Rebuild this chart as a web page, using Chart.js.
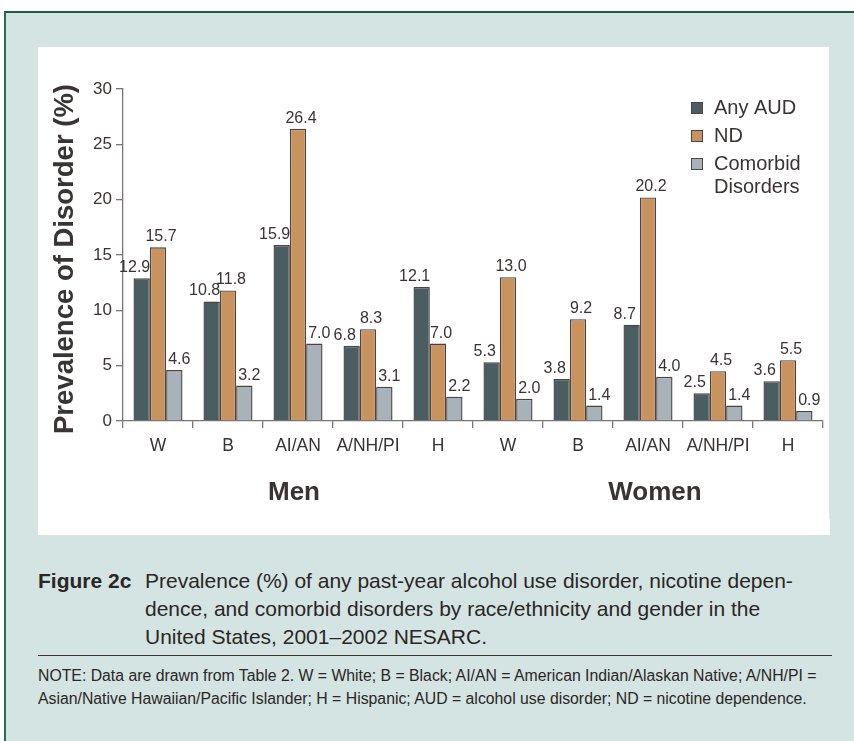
<!DOCTYPE html>
<html><head><meta charset="utf-8">
<script src="https://cdn.jsdelivr.net/npm/chart.js@4.4.1/dist/chart.umd.min.js"></script>
<style>
html,body{margin:0;padding:0;background:#fff;width:854px;height:741px;overflow:hidden;font-family:"Liberation Sans",Arial,Helvetica,sans-serif;color:#2b2626;}
#frame{position:absolute;left:4px;top:11px;width:860px;height:740px;background:#d4e4e2;border-top:2px solid #1e5a47;border-left:2px solid #2d6a58;}
#panel{position:absolute;left:38px;top:47px;width:792px;height:488px;background:#fff;}
#panel canvas{position:absolute;left:0;top:0;}
#edge{position:absolute;left:829px;top:47px;width:1px;height:472px;background:#dde5e5;}
#figlab{position:absolute;left:38px;top:567px;font-size:21px;font-weight:bold;line-height:28px;white-space:nowrap;}
#captext{position:absolute;left:145px;top:567px;font-size:21px;line-height:28px;white-space:nowrap;}
#rule{position:absolute;left:38px;top:655px;width:794px;height:1px;background:#3b3535;}
#note{position:absolute;left:38px;top:664px;font-size:15.8px;line-height:23px;white-space:nowrap;}
</style></head>
<body>
<div id="frame"></div>
<div id="panel"><canvas id="c" width="792" height="488"></canvas></div>
<div id="edge"></div>
<div id="figlab">Figure 2c</div>
<div id="captext">Prevalence (%) of any past-year alcohol use disorder, nicotine depen-<br>dence, and comorbid disorders by race/ethnicity and gender in the<br>United States, 2001–2002 NESARC.</div>
<div id="rule"></div>
<div id="note">NOTE: Data are drawn from Table 2. W = White; B = Black; AI/AN = American Indian/Alaskan Native; A/NH/PI =<br>Asian/Native Hawaiian/Pacific Islander; H = Hispanic; AUD = alcohol use disorder; ND = nicotine dependence.</div>
<script>
const categories = ['W','B','AI/AN','A/NH/PI','H','W','B','AI/AN','A/NH/PI','H'];
const groups = ['Men','Women'];
const seriesNames = ['Any AUD','ND','Comorbid Disorders'];
const anyAUD   = [12.9,10.8,15.9,6.8,12.1, 5.3,3.8,8.7,2.5,3.6];
const nicotine = [15.7,11.8,26.4,8.3,7.0, 13.0,9.2,20.2,4.5,5.5];
const comorbid = [4.6,3.2,7.0,3.1,2.2, 2.0,1.4,4.0,1.4,0.9];
const yTicks = [0,5,10,15,20,25,30];
const yTitle = 'Prevalence of Disorder (%)';

const colors = ['#4a5e61','#c9935f','#a8b3b9'];
const labelShift = [-7,3,5];
const groupShift = [-4,7];
const txt = '#3a3333';
const FONT = '"Liberation Sans", Arial, Helvetica, sans-serif';

const extras = {
  id:'extras',
  afterDatasetsDraw(chart){
    const ctx = chart.ctx, ca = chart.chartArea, xs = chart.scales.x;
    ctx.save();
    ctx.font = '16px ' + FONT;
    ctx.fillStyle = txt;
    ctx.textAlign = 'center';
    ctx.textBaseline = 'alphabetic';
    chart.data.datasets.forEach((ds, di) => {
      const meta = chart.getDatasetMeta(di);
      meta.data.forEach((bar, i) => {
        ctx.fillText(ds.data[i].toFixed(1), bar.x + labelShift[di], bar.y - 6);
      });
    });
    ctx.font = 'bold 26px ' + FONT;
    ctx.textBaseline = 'middle';
    const n = categories.length / groups.length;
    groups.forEach((g, gi) => {
      const x = (xs.getPixelForValue(gi*n) + xs.getPixelForValue(gi*n + n - 1)) / 2;
      ctx.fillText(g, x + groupShift[gi], 446);
    });
    ctx.save();
    ctx.font = 'bold 27px ' + FONT;
    const w = ctx.measureText(yTitle).width;
    ctx.translate(28, (ca.top + ca.bottom)/2 + 4);
    ctx.rotate(-Math.PI/2);
    ctx.scale(350 / w, 1);
    ctx.textAlign = 'center';
    ctx.textBaseline = 'middle';
    ctx.fillStyle = '#3a3434';
    ctx.fillText(yTitle, 0, 0);
    ctx.restore();
    ctx.font = '20px ' + FONT;
    ctx.textAlign = 'left';
    ctx.textBaseline = 'middle';
    let y = 61;
    chart.data.datasets.forEach((ds, di) => {
      ctx.fillStyle = colors[di];
      ctx.fillRect(653, y - 6, 12, 12);
      ctx.strokeStyle = '#4a4444';
      ctx.lineWidth = 1;
      ctx.strokeRect(653.5, y - 5.5, 11, 11);
      ctx.fillStyle = txt;
      const lines = ctx.measureText(ds.label).width > 110 ? ds.label.split(' ') : [ds.label];
      lines.forEach((ln, li) => ctx.fillText(ln, 676, y + li*23));
      y += 28 + (lines.length - 1) * 23;
    });
    ctx.restore();
  }
};

const series = [anyAUD, nicotine, comorbid];
new Chart(document.getElementById('c'), {
  type:'bar',
  data:{
    labels: categories,
    datasets: series.map((d, i) => ({
      label: seriesNames[i], data: d, backgroundColor: colors[i],
      borderColor:'#4a4343', borderWidth:1.4,
      categoryPercentage:0.7, barPercentage:1.0
    }))
  },
  options:{
    responsive:false, animation:false,
    layout:{padding:{top:42,right:7,left:0,bottom:0}},
    plugins:{legend:{display:false}, tooltip:{enabled:false}},
    scales:{
      x:{
        grid:{offset:true, drawOnChartArea:false, tickLength:7, color:'#7b7575', lineWidth:1.3},
        border:{color:'#7b7575', width:1.3},
        ticks:{font:{size:17.5, family:FONT}, color:txt, padding:8, maxRotation:0, autoSkip:false},
        afterFit(s){ s.height = 114; }
      },
      y:{
        min:0, max:30,
        afterBuildTicks(s){ s.ticks = yTicks.map(v => ({value:v})); },
        grid:{drawOnChartArea:false, tickLength:7, color:'#7b7575', lineWidth:1.3},
        border:{color:'#7b7575', width:1.3},
        ticks:{font:{size:17, family:FONT}, color:txt, padding:4},
        afterFit(s){ s.width = 85; }
      }
    }
  },
  plugins:[extras]
});
</script>
</body></html>
